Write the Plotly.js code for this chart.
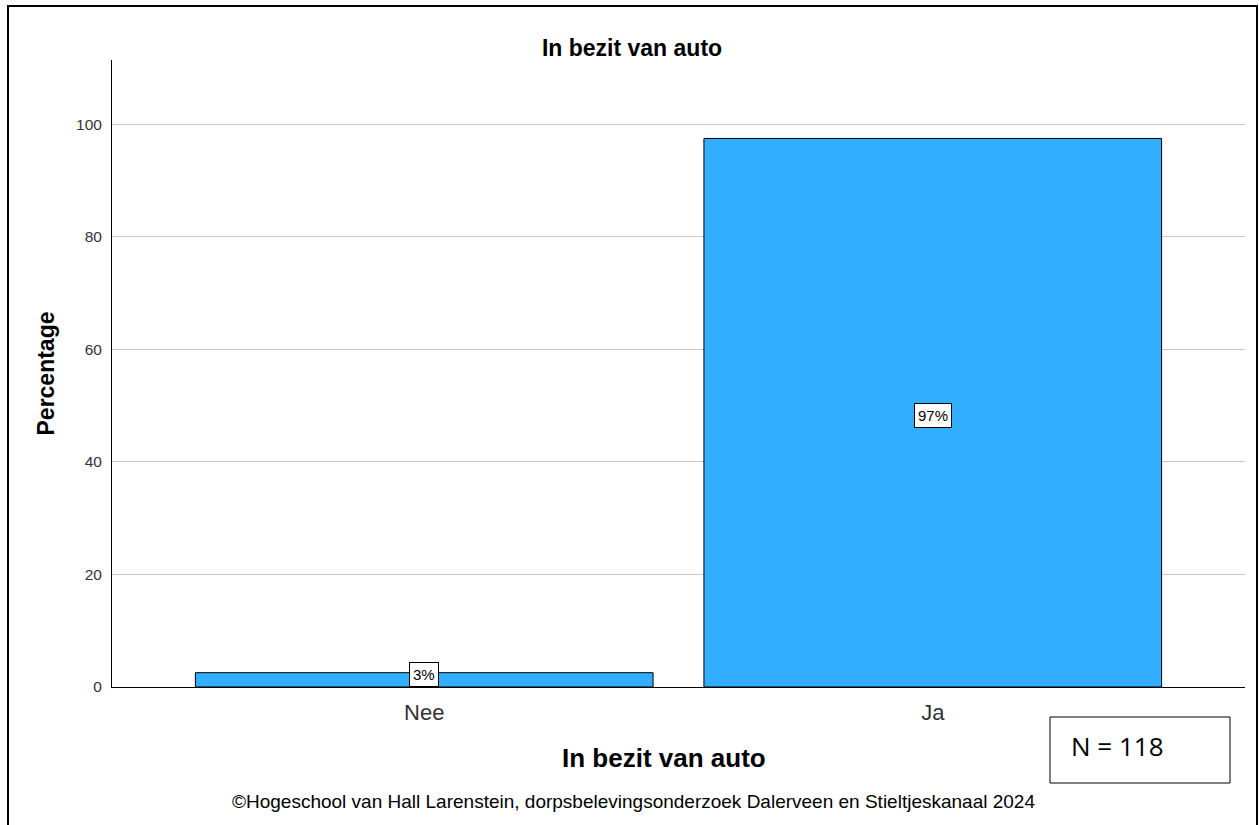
<!DOCTYPE html>
<html>
<head>
<meta charset="utf-8">
<script src="https://cdn.plot.ly/plotly-3.0.1.min.js"></script>
<style>
  html, body { margin: 0; padding: 0; background: #fff; }
  #chart { width: 1259px; height: 825px; }
</style>
</head>
<body>
<div id="chart"></div>
<script>
const categories = ["Nee", "Ja"];
const percentages = [2.54, 97.46];
const valueLabels = ["3%", "97%"];
const chartTitle = "In bezit van auto";
const xTitle = "In bezit van auto";
const yTitle = "Percentage";
const nLabel = "N = 118";
const footer = "©Hogeschool van Hall Larenstein, dorpsbelevingsonderzoek Dalerveen en Stieltjeskanaal 2024";

const W = 1259, H = 825;
const m = {l: 112, r: 14, t: 60, b: 138};
const pw = W - m.l - m.r, ph = H - m.t - m.b;
const px = x => (x - m.l) / pw;
const py = y => (H - m.b - y) / ph;
const yMax = 111.4;
const pxPerUnit = ph / yMax;

const font = "Liberation Sans, Arial, sans-serif";

const trace = {
  type: "bar",
  x: categories,
  y: percentages,
  width: 0.9,
  marker: {color: "#31AEFF", line: {color: "#000", width: 1}},
  hoverinfo: "skip"
};

const labelHalfHeight = 13;
const labelAnnotations = categories.map((c, i) => {
  const mid = percentages[i] / 2;
  const small = mid * pxPerUnit < labelHalfHeight;
  return {
    x: c, y: small ? 0 : mid, xref: "x", yref: "y",
    yanchor: small ? "bottom" : "middle",
    yshift: small ? 0 : -3,
    text: valueLabels[i], showarrow: false,
    font: {family: font, size: 15, color: "#000"},
    bgcolor: "#fff", bordercolor: "#000", borderwidth: 1, borderpad: 3
  };
});

const layout = {
  width: W, height: H,
  margin: m,
  paper_bgcolor: "#fff", plot_bgcolor: "#fff",
  showlegend: false,
  title: {
    text: "<b>" + chartTitle + "</b>",
    font: {family: font, size: 23, color: "#000"},
    x: 632 / W, xref: "container", xanchor: "center",
    y: 1 - 48 / H, yref: "container", yanchor: "middle"
  },
  xaxis: {
    type: "category",
    range: [-0.614, 1.614],
    showline: true, linecolor: "#000", linewidth: 1,
    showgrid: false, zeroline: false,
    ticks: "", ticklabelstandoff: 6,
    tickfont: {family: font, size: 22, color: "#333"}
  },
  yaxis: {
    range: [0, yMax],
    tickvals: [0, 20, 40, 60, 80, 100],
    showline: true, linecolor: "#000", linewidth: 1,
    showgrid: true, gridcolor: "#c8c8c8", gridwidth: 1,
    zeroline: false,
    ticks: "", ticklabelstandoff: 6,
    tickfont: {family: font, size: 15.5, color: "#333"},
    title: {text: "<b>" + yTitle + "</b>", font: {family: font, size: 23, color: "#000"}, standoff: 14}
  },
  shapes: [
    {type: "rect", xref: "paper", yref: "paper",
     x0: px(8), x1: px(1257), y0: py(840), y1: py(6),
     line: {color: "#000", width: 2}, fillcolor: "rgba(0,0,0,0)", layer: "above"},
    {type: "rect", xref: "paper", yref: "paper",
     x0: px(1050), x1: px(1230), y0: py(783), y1: py(717),
     line: {color: "#000", width: 1}, fillcolor: "#fff"}
  ],
  annotations: labelAnnotations.concat([
    {xref: "paper", yref: "paper", x: px(664), y: py(758), xanchor: "center", yanchor: "middle",
     text: "<b>" + xTitle + "</b>", showarrow: false, font: {family: font, size: 26, color: "#000"}},
    {xref: "paper", yref: "paper", x: px(1069), y: py(746), xanchor: "left", yanchor: "middle",
     text: nLabel, showarrow: false, font: {family: "Open Sans, Noto Sans, sans-serif", size: 26, color: "#000"}},
    {xref: "paper", yref: "paper", x: px(633), y: py(801), xanchor: "center", yanchor: "middle",
     text: footer, showarrow: false, font: {family: font, size: 19, color: "#000"}}
  ])
};

Plotly.newPlot("chart", [trace], layout, {displayModeBar: false, staticPlot: true});
</script>
</body>
</html>
